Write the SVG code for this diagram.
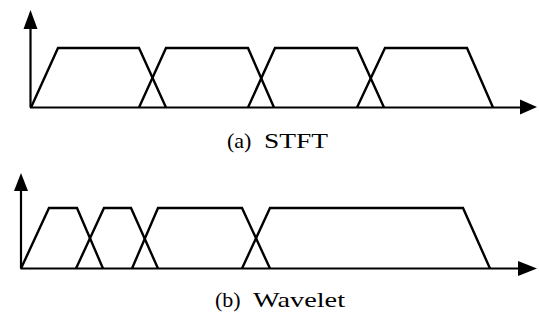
<svg xmlns="http://www.w3.org/2000/svg" width="539" height="322" viewBox="0 0 539 322">
  <style>
    .win { fill: none; stroke: #000; stroke-width: 2.4; stroke-linejoin: miter; }
    .axis { fill: none; stroke: #000; stroke-width: 2.2; }
    .head { fill: #000; stroke: none; }
    .cap { font-family: "Liberation Serif", "Times New Roman", serif; font-size: 22px; fill: #000; }
  </style>

  <!-- (a) STFT: equal-width windows -->
  <g id="stft">
    <g id="axes-a">
      <line class="axis" x1="30.5" y1="107.5" x2="30.5" y2="27"/>
      <polygon class="head" points="30.5,10 23.5,29 37.5,29"/>
      <line class="axis" x1="30" y1="107.5" x2="522" y2="107.5"/>
      <polygon class="head" points="537,107 520,99.5 520,114.5"/>
    </g>
    <g id="stft-w1"><polyline class="win" points="31,107.5 58,48 139,48 166,107.5"/></g>
    <g id="stft-w2"><polyline class="win" points="139,107.5 166,48 248,48 274,107.5"/></g>
    <g id="stft-w3"><polyline class="win" points="248,107.5 275,48 357,48 384,107.5"/></g>
    <g id="stft-w4"><polyline class="win" points="357,107.5 385,48 467,48 493,107.5"/></g>
    <text class="cap" x="227" y="148"><tspan>(a)</tspan><tspan x="264" textLength="64" lengthAdjust="spacingAndGlyphs">STFT</tspan></text>
  </g>

  <!-- (b) Wavelet: windows widening with scale -->
  <g id="wavelet">
    <g id="axes-b">
      <line class="axis" x1="21" y1="268.5" x2="21" y2="189"/>
      <polygon class="head" points="21,173 14,191 28,191"/>
      <line class="axis" x1="20.5" y1="268.5" x2="520" y2="268.5"/>
      <polygon class="head" points="537,268.5 518,261 518,276"/>
    </g>
    <g id="wav-w1"><polyline class="win" points="21,268.5 49,208 77,208 103,268.5"/></g>
    <g id="wav-w2"><polyline class="win" points="76,268.5 104,208 131,208 158,268.5"/></g>
    <g id="wav-w3"><polyline class="win" points="132,268.5 158,208 242,208 270,268.5"/></g>
    <g id="wav-w4"><polyline class="win" points="242,268.5 270,208 463,208 490,268.5"/></g>
    <text class="cap" x="215" y="307"><tspan>(b)</tspan><tspan x="253" textLength="92" lengthAdjust="spacingAndGlyphs">Wavelet</tspan></text>
  </g>
</svg>
